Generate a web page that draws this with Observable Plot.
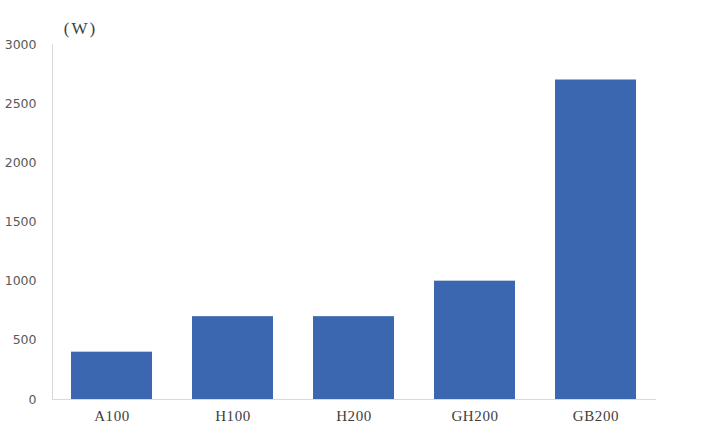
<!DOCTYPE html>
<html>
<head>
<meta charset="utf-8">
<script src="https://cdn.jsdelivr.net/npm/d3@7"></script>
<script src="https://cdn.jsdelivr.net/npm/@observablehq/plot@0.6"></script>
<style>
html, body { margin: 0; padding: 0; background: #fff; }
.xax text { letter-spacing: 0.6px; }
.unit { letter-spacing: 2px; }
</style>
</head>
<body>
<div id="chart"></div>
<script>
const categories = ["A100", "H100", "H200", "GH200", "GB200"];
const power = [400, 700, 700, 1000, 2700];
const yTicks = [0, 500, 1000, 1500, 2000, 2500, 3000];
const unitLabel = "(W)";

const data = categories.map((c, i) => ({ gpu: c, watts: power[i] }));

const chart = Plot.plot({
  width: 720,
  height: 432,
  marginLeft: 52,
  marginRight: 64,
  marginTop: 44,
  marginBottom: 33,
  style: { fontFamily: "'DejaVu Sans', sans-serif", fontSize: "12.5px", color: "#595959", background: "#fff" },
  x: { domain: categories, paddingInner: 0.33, paddingOuter: 0.16, label: null },
  y: { domain: [0, 3000], label: null },
  marks: [
    Plot.barY(data, { x: "gpu", y: "watts", fill: "#3B66B0" }),
    Plot.ruleY([0], { stroke: "#d9d9d9", strokeWidth: 1 }),
    Plot.frame({ anchor: "left", stroke: "#d9d9d9", strokeOpacity: 1 }),
    Plot.axisY({ ticks: yTicks, tickSize: 0, tickPadding: 16, fill: "#595959", fontSize: 12.5, label: null, tickFormat: d => String(d) }),
    Plot.axisX({ tickSize: 0, tickPadding: 11, fill: "#404040", fontSize: 15, fontFamily: "'Liberation Serif', serif", label: null, className: "xax" }),
    Plot.text([unitLabel], { frameAnchor: "top-left", dx: 28, dy: -16, lineAnchor: "middle", textAnchor: "middle", fontSize: 17, fontFamily: "'Liberation Serif', serif", fill: "#404040", className: "unit" })
  ]
});
document.getElementById("chart").appendChild(chart);
</script>
</body>
</html>
